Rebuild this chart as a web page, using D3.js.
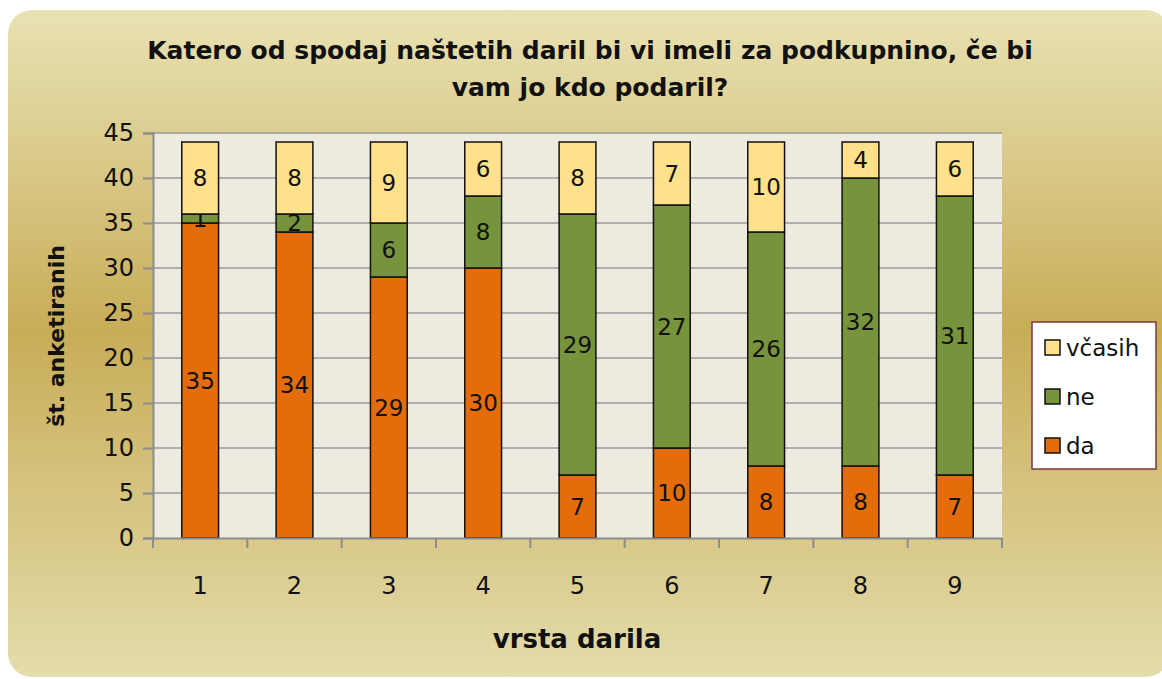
<!DOCTYPE html>
<html>
<head>
<meta charset="utf-8">
<script src="https://cdn.jsdelivr.net/npm/d3@7"></script>
<style>
  body { margin: 0; background: #fff; }
  svg { display: block; font-family: "DejaVu Sans", Verdana, sans-serif; }
</style>
</head>
<body>
<svg id="chart" width="1162" height="679"></svg>
<script>
// Data
const categories = ["1", "2", "3", "4", "5", "6", "7", "8", "9"];
const da = [35, 34, 29, 30, 7, 10, 8, 8, 7];
const ne = [1, 2, 6, 8, 29, 27, 26, 32, 31];
const vcasih = [8, 8, 9, 6, 8, 7, 10, 4, 6];
const seriesNames = ["da", "ne", "včasih"];
const seriesColors = ["#e46c0a", "#77933c", "#fee18a"];
const yTicks = [0, 5, 10, 15, 20, 25, 30, 35, 40, 45];

const svg = d3.select("#chart");

// Background card with vertical gradient
const defs = svg.append("defs");
const grad = defs.append("linearGradient").attr("id", "bg").attr("x1", 0).attr("y1", 0).attr("x2", 0).attr("y2", 1);
grad.append("stop").attr("offset", "0%").attr("stop-color", "#e9e2b4");
grad.append("stop").attr("offset", "48%").attr("stop-color", "#c8ad58");
grad.append("stop").attr("offset", "100%").attr("stop-color", "#e4dcab");

svg.append("rect")
  .attr("x", 8).attr("y", 10)
  .attr("width", 1162).attr("height", 667)
  .attr("rx", 24).attr("ry", 24)
  .attr("fill", "url(#bg)");

// Plot area
const plot = { left: 153, right: 1002, top: 133, bottom: 538 };

const x = d3.scaleBand().domain(categories).range([plot.left, plot.right]).paddingInner(0.61).paddingOuter(0.305);
const xOuter = d3.scaleBand().domain(categories).range([plot.left, plot.right]);
const y = d3.scaleLinear().domain([0, 45]).range([plot.bottom, plot.top]);

svg.append("rect")
  .attr("x", plot.left).attr("y", plot.top)
  .attr("width", plot.right - plot.left).attr("height", plot.bottom - plot.top)
  .attr("fill", "#edebe0");

// gridlines
svg.append("g").selectAll("line")
  .data(yTicks.filter(d => d > 0))
  .join("line")
  .attr("x1", plot.left).attr("x2", plot.right)
  .attr("y1", d => y(d)).attr("y2", d => y(d))
  .attr("stroke", "#9a9a9a").attr("stroke-width", 1.5);

// Stack the series
const table = categories.map((c, i) => ({ cat: c, da: da[i], ne: ne[i], "včasih": vcasih[i] }));
const stack = d3.stack().keys(seriesNames)(table);

const groups = svg.append("g").selectAll("g")
  .data(stack)
  .join("g")
  .attr("fill", (d, i) => seriesColors[i]);

groups.selectAll("rect")
  .data(d => d)
  .join("rect")
  .attr("x", d => x(d.data.cat))
  .attr("width", x.bandwidth())
  .attr("y", d => y(d[1]))
  .attr("height", d => y(d[0]) - y(d[1]))
  .attr("stroke", "#111")
  .attr("stroke-width", 1.5);

// segment labels
groups.selectAll("text")
  .data(d => d.map(v => ({ v: v, val: v[1] - v[0] })))
  .join("text")
  .attr("x", d => x(d.v.data.cat) + x.bandwidth() / 2)
  .attr("y", d => y((d.v[0] + d.v[1]) / 2) + 8)
  .attr("text-anchor", "middle")
  .attr("font-size", 23)
  .attr("fill", "#111")
  .text(d => d.val);

// Axes
const yAxis = d3.axisLeft(y).tickValues(yTicks).tickSize(10).tickPadding(9);
const gy = svg.append("g").attr("transform", `translate(${plot.left},0)`).call(yAxis);
gy.select(".domain").attr("stroke", "#8c8c8c").attr("stroke-width", 2);
gy.selectAll(".tick line").attr("stroke", "#8c8c8c").attr("stroke-width", 2);
gy.selectAll(".tick text").attr("font-size", 24).attr("fill", "#111").attr("font-family", "DejaVu Sans");

const xAxis = d3.axisBottom(xOuter).tickSize(0).tickPadding(0);
const gx = svg.append("g").attr("transform", `translate(0,${plot.bottom})`).call(xAxis);
gx.select(".domain").attr("stroke", "#8c8c8c").attr("stroke-width", 2);
gx.selectAll(".tick text").attr("font-size", 24).attr("fill", "#111").attr("font-family", "DejaVu Sans").attr("dy", 0).attr("y", 56);

// x tick marks between categories
svg.append("g").selectAll("line")
  .data(categories.map(c => xOuter(c)).concat([plot.right]))
  .join("line")
  .attr("x1", d => d).attr("x2", d => d)
  .attr("y1", plot.bottom).attr("y2", plot.bottom + 10)
  .attr("stroke", "#8c8c8c").attr("stroke-width", 2);

// Titles
const title = svg.append("text")
  .attr("text-anchor", "middle")
  .attr("font-size", 25).attr("font-weight", "bold").attr("fill", "#111");
title.append("tspan").attr("x", 590).attr("y", 59).text("Katero od spodaj naštetih daril bi vi imeli za podkupnino, če bi");
title.append("tspan").attr("x", 590).attr("y", 96).text("vam jo kdo podaril?");

svg.append("text")
  .attr("transform", "translate(64,336) rotate(-90)")
  .attr("text-anchor", "middle")
  .attr("font-size", 22).attr("font-weight", "bold").attr("fill", "#111")
  .text("št. anketiranih");

svg.append("text")
  .attr("x", 577).attr("y", 648)
  .attr("text-anchor", "middle")
  .attr("font-size", 26).attr("font-weight", "bold").attr("fill", "#111")
  .text("vrsta darila");

// Legend
const legend = svg.append("g").attr("transform", "translate(1032,322)");
legend.append("rect")
  .attr("width", 124).attr("height", 147)
  .attr("fill", "#fff").attr("stroke", "#7a3a3a").attr("stroke-width", 1.5);

const legendOrder = [2, 1, 0];
const li = legend.selectAll("g.item")
  .data(legendOrder)
  .join("g")
  .attr("class", "item")
  .attr("transform", (d, i) => `translate(0,${26 + i * 49})`);
li.append("rect")
  .attr("x", 13).attr("y", -8).attr("width", 15).attr("height", 15)
  .attr("fill", d => seriesColors[d]).attr("stroke", "#111").attr("stroke-width", 1.5);
li.append("text")
  .attr("x", 34).attr("y", 8)
  .attr("font-size", 23).attr("fill", "#111")
  .text(d => seriesNames[d]);
</script>
</body>
</html>
